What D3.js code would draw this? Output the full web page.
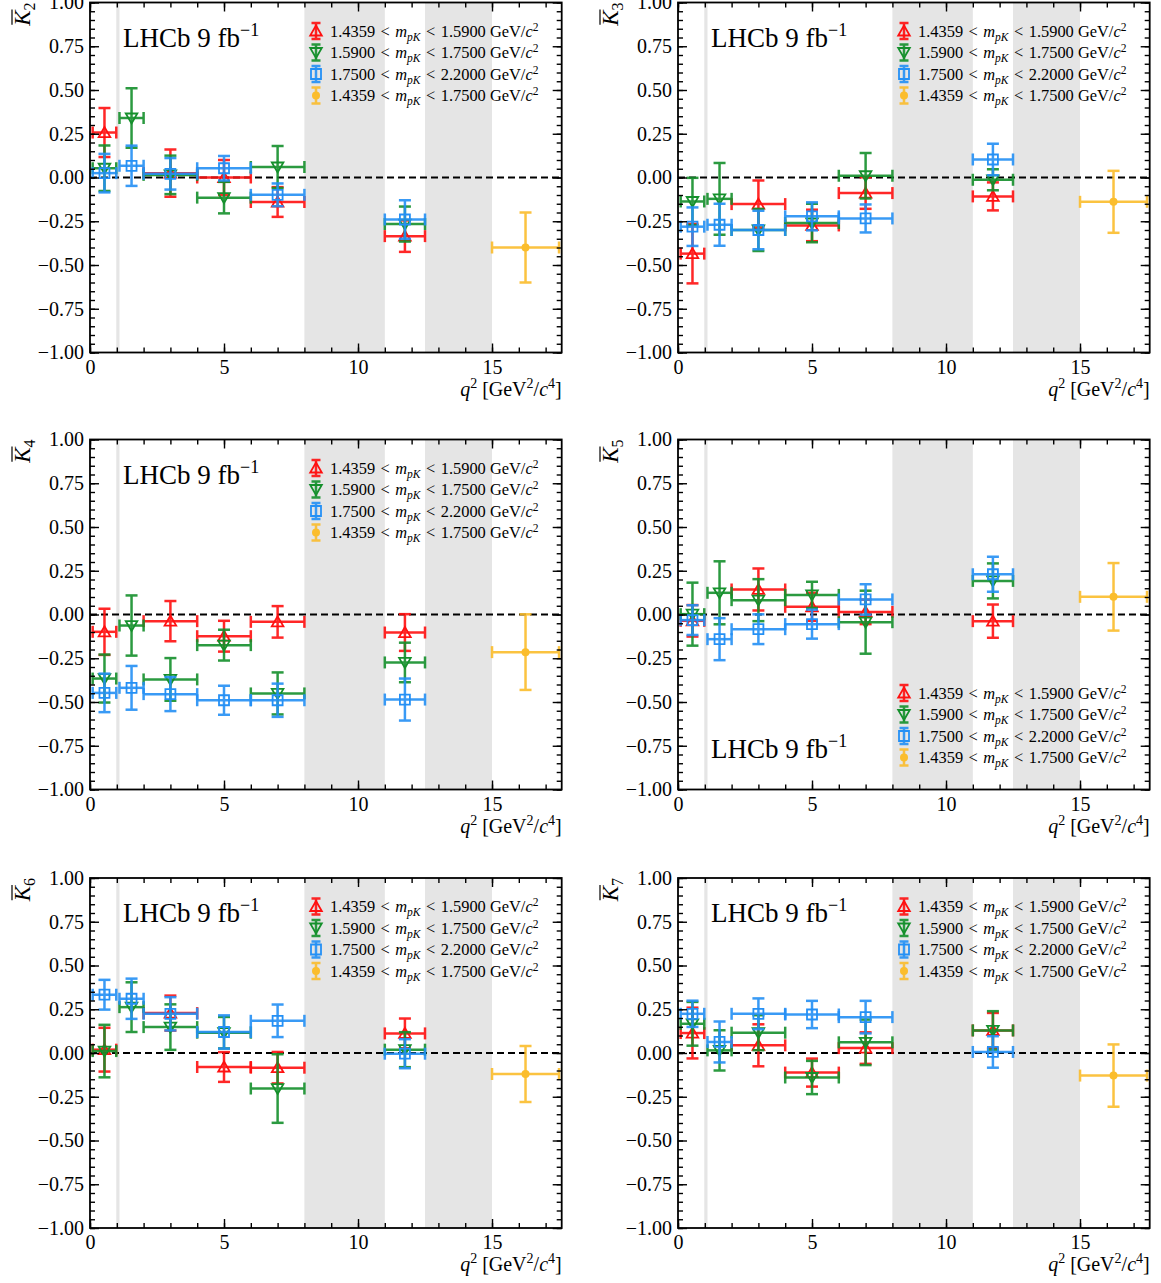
<!DOCTYPE html>
<html>
<head>
<meta charset="utf-8">
<script src="https://cdn.jsdelivr.net/npm/d3@7"></script>
<style>
body { margin: 0; background: #fff; }
svg text { font-family: "Liberation Serif", "DejaVu Serif", serif; fill: #000; }
</style>
</head>
<body>
<div id="chart"></div>
<script>
// q2 bins (GeV^2/c^4)
var binLo = [0.1, 1.1, 2, 4, 6, 11];
var binHi = [0.98, 2.0, 4, 6, 8, 12.5];
var binMid = [0.54, 1.55, 3, 5, 7, 11.75];
var wideBin = [15, 17.5];
var wideMid = 16.25;
var vetoBands = [[0.98, 1.1], [8, 11], [12.5, 15]];

// one row per observable K2..K7
var observables = ["2", "3", "4", "5", "6", "7"];

var redValues = [
    [0.257, null, 0.025, 0.0, -0.14, -0.335],
    [-0.435, null, -0.152, -0.274, -0.089, -0.108],
    [-0.099, null, -0.038, -0.124, -0.042, -0.103],
    [-0.036, null, 0.143, 0.044, 0.015, -0.038],
    [0.019, null, 0.228, -0.08, -0.084, 0.112],
    [0.114, null, 0.044, -0.112, 0.028, 0.129]
];
var redErrors = [
    [0.14, null, 0.135, 0.10, 0.085, 0.09],
    [0.17, null, 0.135, 0.09, 0.09, 0.08],
    [0.132, null, 0.115, 0.088, 0.09, 0.105],
    [0.09, null, 0.12, 0.08, 0.07, 0.095],
    [0.125, null, 0.10, 0.085, 0.09, 0.085],
    [0.145, null, 0.12, 0.08, 0.09, 0.10]
];
var greenValues = [
    [0.053, 0.34, 0.015, -0.115, 0.06, -0.266],
    [-0.137, -0.122, -0.30, -0.26, 0.01, -0.013],
    [-0.366, -0.063, -0.371, -0.175, -0.451, -0.274],
    [0.002, 0.124, 0.082, 0.112, -0.044, 0.192],
    [0.011, 0.262, 0.148, 0.116, -0.203, 0.019],
    [0.167, 0.015, 0.116, -0.14, 0.061, 0.129]
];
var greenErrors = [
    [0.13, 0.17, 0.11, 0.09, 0.12, 0.10],
    [0.135, 0.205, 0.12, 0.11, 0.13, 0.06],
    [0.137, 0.172, 0.122, 0.088, 0.12, 0.113],
    [0.18, 0.18, 0.12, 0.075, 0.18, 0.10],
    [0.15, 0.142, 0.13, 0.09, 0.196, 0.10],
    [0.125, 0.115, 0.10, 0.095, 0.13, 0.11]
];
var blueValues = [
    [0.025, 0.067, 0.021, 0.053, -0.099, -0.24],
    [-0.281, -0.27, -0.30, -0.222, -0.234, 0.103],
    [-0.448, -0.419, -0.455, -0.49, -0.49, -0.486],
    [-0.032, -0.141, -0.084, -0.055, 0.086, 0.23],
    [0.333, 0.31, 0.224, 0.12, 0.184, -0.004],
    [0.224, 0.063, 0.224, 0.22, 0.205, 0.006]
];
var blueErrors = [
    [0.11, 0.115, 0.09, 0.07, 0.065, 0.11],
    [0.11, 0.12, 0.11, 0.08, 0.08, 0.09],
    [0.11, 0.125, 0.097, 0.083, 0.095, 0.12],
    [0.085, 0.12, 0.085, 0.083, 0.087, 0.10],
    [0.085, 0.115, 0.095, 0.095, 0.093, 0.083],
    [0.075, 0.117, 0.088, 0.078, 0.093, 0.09]
];
var yellowValues = [-0.40, -0.139, -0.215, 0.101, -0.12, -0.129];
var yellowErrors = [0.20, 0.177, 0.216, 0.193, 0.16, 0.178];

var legendLabels = [
    ["1.4359", "1.5900"],
    ["1.5900", "1.7500"],
    ["1.7500", "2.2000"],
    ["1.4359", "1.7500"]
];

var W = 1161, H = 1283;
var colLeft = [90, 678];
var rowTop = [2.5, 439.5, 878];
var pw = 471.7, ph = 350;
var cap = 6;
var sp = "\u2004"; // wider math space around relations

var svg = d3.select("#chart").append("svg")
    .attr("width", W)
    .attr("height", H);

var series = [
    { color: "#ff1010", marker: "up", vals: redValues, errs: redErrors },
    { color: "#15902c", marker: "down", vals: greenValues, errs: greenErrors },
    { color: "#2490f5", marker: "square", vals: blueValues, errs: blueErrors },
    { color: "#fbbd2c", marker: "dot" }
];

function markerPath(kind) {
    if (kind == "up") return "M0,-5.5L5.8,4.5L-5.8,4.5Z";
    if (kind == "down") return "M0,5.5L5.8,-4.5L-5.8,-4.5Z";
    if (kind == "square") return "M-5,-5H5V5H-5Z";
    return null;
}

function drawMarker(g, kind, color, cx, cy) {
    if (kind == "dot") {
        g.append("circle").attr("cx", cx).attr("cy", cy).attr("r", 4)
            .attr("fill", color);
    } else {
        g.append("path").attr("d", markerPath(kind))
            .attr("transform", "translate(" + cx + "," + cy + ")")
            .attr("fill", "none").attr("stroke", color).attr("stroke-width", 1.8);
    }
}

function errorBar(g, color, x0, x1, xc, y0, y1, yc) {
    var eb = g.append("g").attr("stroke", color).attr("stroke-width", 2.5)
        .attr("opacity", 0.9);
    // vertical
    eb.append("line").attr("x1", xc).attr("x2", xc).attr("y1", y0).attr("y2", y1);
    eb.append("line").attr("x1", xc - cap).attr("x2", xc + cap).attr("y1", y0).attr("y2", y0);
    eb.append("line").attr("x1", xc - cap).attr("x2", xc + cap).attr("y1", y1).attr("y2", y1);
    // horizontal
    if (x0 != null) {
        eb.append("line").attr("x1", x0).attr("x2", x1).attr("y1", yc).attr("y2", yc);
        eb.append("line").attr("x1", x0).attr("x2", x0).attr("y1", yc - cap).attr("y2", yc + cap);
        eb.append("line").attr("x1", x1).attr("x2", x1).attr("y1", yc - cap).attr("y2", yc + cap);
    }
}

function drawPanel(p) {
    var left = colLeft[p % 2], top = rowTop[Math.floor(p / 2)];
    var g = svg.append("g").attr("transform", "translate(" + left + "," + top + ")");

    var x = d3.scaleLinear().domain([0, 17.6]).range([0, pw]);
    var y = d3.scaleLinear().domain([-1, 1]).range([ph, 0]);

    // vetoed q2 regions
    g.selectAll(".band").data(vetoBands).enter().append("rect")
        .attr("x", function (d) { return x(d[0]); })
        .attr("width", function (d) { return x(d[1]) - x(d[0]); })
        .attr("y", 0).attr("height", ph)
        .attr("fill", "#e5e5e5");

    // zero line
    g.append("line")
        .attr("x1", 0).attr("x2", pw)
        .attr("y1", y(0)).attr("y2", y(0))
        .attr("stroke", "#000").attr("stroke-width", 2)
        .attr("stroke-dasharray", "7,4");

    // data points
    for (var s = 0; s < 3; s++) {
        var ser = series[s];
        var vals = ser.vals[p], errs = ser.errs[p];
        for (var i = 0; i < vals.length; i++) {
            if (vals[i] == null) continue;
            errorBar(g, ser.color, x(binLo[i]), x(binHi[i]), x(binMid[i]),
                y(vals[i] + errs[i]), y(vals[i] - errs[i]), y(vals[i]));
            drawMarker(g, ser.marker, ser.color, x(binMid[i]), y(vals[i]));
        }
    }
    var yv = yellowValues[p], ye = yellowErrors[p];
    errorBar(g, series[3].color, x(wideBin[0]), x(wideBin[1]), x(wideMid),
        y(yv + ye), y(yv - ye), y(yv));
    drawMarker(g, "dot", series[3].color, x(wideMid), y(yv));

    // axes with inward ticks on all four sides
    var yMinor = d3.range(-1, 1.0001, 0.05);
    var xMinor = d3.range(0, 18, 1);
    var axes = [
        g.append("g").attr("transform", "translate(0," + ph + ")")
            .call(d3.axisBottom(x).tickValues([0, 5, 10, 15]).tickSize(-9).tickPadding(7).tickFormat(d3.format("d"))),
        g.append("g").call(d3.axisTop(x).tickValues([0, 5, 10, 15]).tickSize(-9).tickFormat("")),
        g.append("g").call(d3.axisLeft(y).tickValues(d3.range(-1, 1.01, 0.25)).tickSize(-9).tickPadding(6).tickFormat(d3.format(".2f"))),
        g.append("g").attr("transform", "translate(" + pw + ",0)")
            .call(d3.axisRight(y).tickValues(d3.range(-1, 1.01, 0.25)).tickSize(-9).tickFormat("")),
        g.append("g").attr("transform", "translate(0," + ph + ")")
            .call(d3.axisBottom(x).tickValues(xMinor).tickSize(-5).tickFormat("")),
        g.append("g").call(d3.axisTop(x).tickValues(xMinor).tickSize(-5).tickFormat("")),
        g.append("g").call(d3.axisLeft(y).tickValues(yMinor).tickSize(-5).tickFormat("")),
        g.append("g").attr("transform", "translate(" + pw + ",0)")
            .call(d3.axisRight(y).tickValues(yMinor).tickSize(-5).tickFormat(""))
    ];
    axes.forEach(function (a) {
        a.select(".domain").remove();
        a.selectAll("line").attr("stroke", "#000").attr("stroke-width", 1.4);
        a.selectAll("text").style("font-family", "'Liberation Serif', serif")
            .style("font-size", "20px").attr("fill", "#000");
    });

    g.append("rect").attr("width", pw).attr("height", ph)
        .attr("fill", "none").attr("stroke", "#000").attr("stroke-width", 1.8);

    // x axis title
    var xt = g.append("text").attr("x", pw).attr("y", ph + 43)
        .attr("text-anchor", "end").style("font-size", "20px");
    xt.append("tspan").style("font-style", "italic").text("q");
    xt.append("tspan").attr("dy", -8).style("font-size", "14px").text("2");
    xt.append("tspan").attr("dy", 8).text(" [GeV");
    xt.append("tspan").attr("dy", -8).style("font-size", "14px").text("2");
    xt.append("tspan").attr("dy", 8).text("/");
    xt.append("tspan").style("font-style", "italic").text("c");
    xt.append("tspan").attr("dy", -8).style("font-size", "14px").text("4");
    xt.append("tspan").attr("dy", 8).text("]");

    // y axis title: overlined K with subscript
    var yg = g.append("g").attr("transform", "translate(-60,0) rotate(-90)");
    var yt = yg.append("text").attr("x", 0).attr("y", 0)
        .attr("text-anchor", "end").style("font-size", "23px");
    yt.append("tspan").style("font-style", "italic").text("K");
    yt.append("tspan").attr("dy", 5).style("font-size", "16px").text(observables[p]);
    var total = yt.node().getComputedTextLength();
    var kw = yt.node().getSubStringLength(0, 1);
    yg.append("line").attr("x1", -total + 1).attr("x2", -total + kw + 1)
        .attr("y1", -18).attr("y2", -18)
        .attr("stroke", "#000").attr("stroke-width", 1.2);

    // legend and experiment label
    var bottomLegend = (observables[p] == "5");
    var legRows = bottomLegend ? [253.5, 275, 296.5, 318] : [28.5, 50, 71.5, 93];
    for (var k = 0; k < 4; k++) {
        var ly = legRows[k], lx = 226;
        var lg = g.append("g");
        lg.append("g").attr("stroke", series[k].color).attr("stroke-width", 2.5)
            .attr("opacity", 0.9).call(function (e) {
                e.append("line").attr("x1", lx).attr("x2", lx).attr("y1", ly - 8).attr("y2", ly + 8);
                e.append("line").attr("x1", lx - 4.5).attr("x2", lx + 4.5).attr("y1", ly - 8).attr("y2", ly - 8);
                e.append("line").attr("x1", lx - 4.5).attr("x2", lx + 4.5).attr("y1", ly + 8).attr("y2", ly + 8);
            });
        drawMarker(lg, series[k].marker, series[k].color, lx, ly);
        var lt = lg.append("text").attr("x", 240).attr("y", ly + 5.5).style("font-size", "16.4px");
        lt.append("tspan").text(legendLabels[k][0] + sp + "<" + sp);
        lt.append("tspan").style("font-style", "italic").text("m");
        lt.append("tspan").attr("dy", 4).style("font-style", "italic").style("font-size", "11.5px").text("pK");
        lt.append("tspan").attr("dy", -4).text(sp + "<" + sp + legendLabels[k][1] + " GeV/");
        lt.append("tspan").style("font-style", "italic").text("c");
        lt.append("tspan").attr("dy", -6).style("font-size", "11.5px").text("2");
    }

    var lhcbY = bottomLegend ? 318 : 44;
    var lh = g.append("text").attr("x", 33).attr("y", lhcbY).style("font-size", "27px");
    lh.append("tspan").text("LHCb 9 fb");
    lh.append("tspan").attr("dy", -11).style("font-size", "18px").text("\u22121");
}

for (var p = 0; p < observables.length; p++) drawPanel(p);
</script>
</body>
</html>
